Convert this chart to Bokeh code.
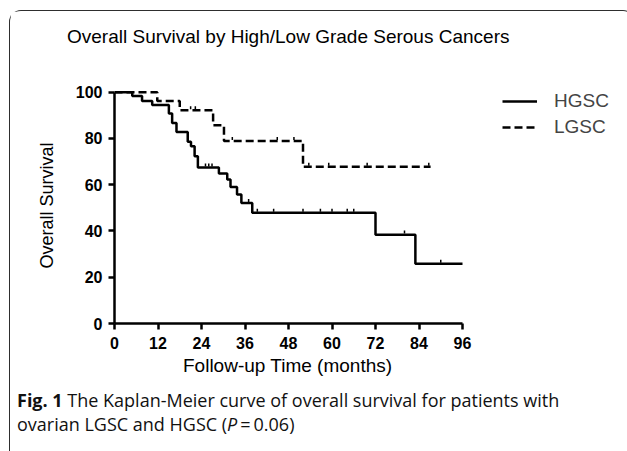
import numpy as np
from bokeh.plotting import figure
from bokeh.models import Range1d, Legend, LegendItem, FixedTicker, Title, Div
from bokeh.layouts import column
from bokeh.embed import file_html
from bokeh.resources import INLINE

# ---- data ----
hgsc_t = [0, 4.9, 7.6, 10.4, 15.0, 15.9, 17.1, 20.2, 21.1, 22.1, 23.0, 28.8, 31.1, 32.0, 33.8, 35.0, 38.0, 72.0, 83.0, 96.0]
hgsc_s = [100, 98.3, 96.2, 94.4, 90.8, 86.7, 82.8, 78.5, 76.6, 72.3, 67.4, 64.8, 62.2, 59.0, 55.8, 52.1, 47.9, 38.4, 25.8, 25.8]
hgsc_cens_t = [25.1, 26.0, 26.9, 37.0, 39.4, 43.9, 52.0, 56.8, 60.0, 64.2, 66.0, 80.0, 90.0]
hgsc_cens_s = [67.4, 67.4, 67.4, 52.1, 47.9, 47.9, 47.9, 47.9, 47.9, 47.9, 47.9, 38.4, 25.8]

lgsc_t = [0, 11.8, 18.0, 27.2, 30.2, 52.0, 87.2]
lgsc_s = [100, 96.2, 92.2, 85.7, 78.9, 67.7, 67.7]
lgsc_cens_t = [21.0, 22.3, 32.5, 44.9, 49.5, 53.6, 59.1, 69.7, 86.7]
lgsc_cens_s = [92.2, 92.2, 78.9, 78.9, 78.9, 67.7, 67.7, 67.7, 67.7]

x_ticks = [0, 12, 24, 36, 48, 60, 72, 84, 96]
y_ticks = [0, 20, 40, 60, 80, 100]

FIG_W, FIG_H = 614, 372
LEFT, RIGHT, TOP, BOTTOM = 104, 4, 76, 60
frame_w = FIG_W - LEFT - RIGHT
x_end = 96 * frame_w / 348.0   # frame widened to the right so the legend is not clipped

p = figure(width=FIG_W, height=FIG_H, output_backend="svg", toolbar_location=None,
           x_range=Range1d(0, x_end), y_range=Range1d(0, 102),
           min_border_left=LEFT, min_border_right=RIGHT, min_border_top=TOP, min_border_bottom=BOTTOM)
p.outline_line_color = None
p.grid.visible = False
p.background_fill_color = "white"
p.border_fill_color = "white"

for ax in (p.xaxis[0], p.yaxis[0]):
    ax.axis_line_width = 2.5
    ax.axis_line_color = "black"
    ax.major_tick_line_width = 2.5
    ax.major_tick_line_color = "black"
    ax.major_tick_out = 6
    ax.major_tick_in = 0
    ax.minor_tick_line_color = None
    ax.major_label_text_font = "Liberation Sans"
    ax.major_label_text_font_style = "bold"
    ax.major_label_text_font_size = "16px"
    ax.major_label_text_color = "black"
    ax.axis_label_text_font = "Liberation Sans"
    ax.axis_label_text_font_style = "normal"
    ax.axis_label_text_color = "black"

p.xaxis.ticker = FixedTicker(ticks=x_ticks)
p.yaxis.ticker = FixedTicker(ticks=y_ticks)
p.xaxis.bounds = (0, 96)
p.yaxis.bounds = (0, 100)
p.yaxis.axis_label = "Overall Survival"
p.yaxis.axis_label_text_font_size = "18px"
p.xaxis.major_label_standoff = 7
p.yaxis.major_label_standoff = 6
p.yaxis.axis_label_standoff = 16

p.add_layout(Title(text="Follow-up Time (months)", align="left", offset=68.5, standoff=2,
                   text_font="Liberation Sans", text_font_style="normal", text_font_size="19px",
                   text_color="black"), "below")
# a blank second line lifts the title above the plot without enlarging the top border
p.add_layout(Title(text="Overall Survival by High/Low Grade Serous Cancers\n ", align="left",
                   offset=-47.5, standoff=10, vertical_align="bottom", text_line_height=1.7,
                   text_font="Liberation Sans", text_font_style="normal", text_font_size="19px",
                   text_color="black"), "above")

r_h = p.step(hgsc_t, hgsc_s, mode="after", line_color="black", line_width=2.5)
r_l = p.step(lgsc_t, lgsc_s, mode="after", line_color="black", line_width=2.5, line_dash="8 4")
p.scatter(hgsc_cens_t, [s + 1.1 for s in hgsc_cens_s], marker="dash", angle=np.pi / 2,
          size=3, line_color="black", line_width=1.5)
p.scatter(lgsc_cens_t, [s + 1.1 for s in lgsc_cens_s], marker="dash", angle=np.pi / 2,
          size=3, line_color="black", line_width=1.5)

legend = Legend(items=[LegendItem(label="HGSC", renderers=[r_h]),
                       LegendItem(label="LGSC", renderers=[r_l])],
                location=(388, 185), padding=0, margin=0, spacing=4,
                glyph_width=35, glyph_height=20, label_height=20, label_standoff=17,
                label_text_font="Liberation Sans", label_text_font_size="19px",
                background_fill_alpha=0, border_line_color=None)
p.add_layout(legend, "center")

caption = Div(
    text=("<div style=\"font-family:'Open Sans'; font-size:18px; line-height:24px; color:#111;"
          " padding-top:0px; padding-left:2px; white-space:nowrap;\">"
          "<b>Fig. 1</b> The Kaplan-Meier curve of overall survival for patients with<br>"
          "ovarian LGSC and HGSC (<i>P</i>&#8201;=&#8201;0.06)</div>"),
    width=FIG_W, height=66)

layout = column(p, caption, spacing=0,
                styles={"margin": "10px 0 0 9px",
                        "border-top": "1.5px solid #2e2e2e",
                        "border-left": "1.5px solid #2e2e2e",
                        "border-right": "1.5px solid #2e2e2e",
                        "border-radius": "12px 12px 0 0",
                        "background": "white"})

open("out.html", "w").write(file_html(layout, INLINE))
